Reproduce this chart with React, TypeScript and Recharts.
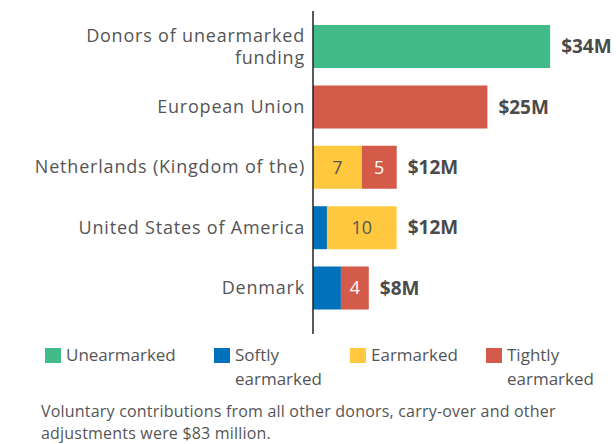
import React from 'react';
import { BarChart, Bar, XAxis, YAxis, LabelList } from 'recharts';

const donors = [
  'Donors of unearmarked funding',
  'European Union',
  'Netherlands (Kingdom of the)',
  'United States of America',
  'Denmark',
];
const unearmarked = [34, 0, 0, 0, 0];
const softly = [0, 0, 0, 2, 4];
const earmarked = [0, 0, 7, 10, 0];
const tightly = [0, 25, 5, 0, 4];
const totals = ['$34M', '$25M', '$12M', '$12M', '$8M'];

const series = [
  { key: 'unearmarked', name: 'Unearmarked', color: '#43bb89', lines: ['Unearmarked'] },
  { key: 'softly', name: 'Softly earmarked', color: '#0072bc', lines: ['Softly', 'earmarked'] },
  { key: 'earmarked', name: 'Earmarked', color: '#ffc83f', lines: ['Earmarked'] },
  { key: 'tightly', name: 'Tightly earmarked', color: '#d45b49', lines: ['Tightly', 'earmarked'] },
];

const data = donors.map((name, i) => ({
  name,
  unearmarked: unearmarked[i],
  softly: softly[i],
  earmarked: earmarked[i],
  tightly: tightly[i],
  total: totals[i],
}));

const FONT = '"Open Sans", sans-serif';
const TEXT = '#555555';

const keys = series.map((s) => s.key);
const lastKey = (row: any) => [...keys].reverse().find((k) => row[k] > 0);
const partCount = (row: any) => keys.filter((k) => row[k] > 0).length;

// split the long first label onto two lines like the original
const tickLines = (label: string) =>
  label === 'Donors of unearmarked funding' ? ['Donors of unearmarked', 'funding'] : [label];

const DonorTick = (props: any) => {
  const { x, y, payload } = props;
  const lines = tickLines(payload.value);
  const lh = 22;
  const y0 = y - ((lines.length - 1) * lh) / 2;
  return (
    <text x={x} y={y0} textAnchor="end" fill={TEXT} fontSize={18} letterSpacing={0.8} fontFamily={FONT}>
      {lines.map((l, i) => (
        <tspan key={i} x={x} y={y0 + i * lh} dy="0.35em">
          {l}
        </tspan>
      ))}
    </text>
  );
};

const innerLabel = (color: string) => (props: any) => {
  const { x, y, width, height, value } = props;
  if (value === '' || value == null) return null;
  return (
    <text x={x + width / 2} y={y + height / 2} dy="0.35em" textAnchor="middle" fill={color} fontSize={18} fontFamily={FONT}>
      {value}
    </text>
  );
};

const totalLabel = (props: any) => {
  const { x, y, width, height, value } = props;
  if (!value) return null;
  return (
    <text x={x + width + 11} y={y + height / 2} dy="0.35em" fill="#4a4a4a" fontSize={19} fontWeight={700} fontFamily={FONT}>
      {value}
    </text>
  );
};

// segment numbers only on rows made of more than one piece
const segValue = (key: string) => (row: any) => (partCount(row) > 1 && row[key] > 0 ? row[key] : '');
// total sits after whichever segment ends the row
const totalValue = (key: string) => (row: any) => (lastKey(row) === key ? row.total : '');

const legendLeft = [45, 214, 350, 486];

export default function App() {
  return (
    <div style={{ position: 'absolute', left: 0, top: 0, width: 616, height: 444, background: '#fff', overflow: 'hidden' }}>
      <BarChart width={616} height={444} data={data} layout="vertical" margin={{ top: 11, right: 24, bottom: 110, left: 0 }}>
        <XAxis type="number" domain={[0, 40]} hide />
        <YAxis
          type="category"
          dataKey="name"
          width={313}
          axisLine={{ stroke: '#222', strokeWidth: 1.5 }}
          tickLine={false}
          tickSize={0}
          tickMargin={8}
          padding={{ top: 5, bottom: 16 }}
          tick={<DonorTick />}
          interval={0}
        />
        {series.map((s) => (
          <Bar key={s.key} dataKey={s.key} name={s.name} stackId="a" fill={s.color} barSize={43} isAnimationActive={false}>
            {s.key === 'earmarked' && <LabelList dataKey={segValue('earmarked')} content={innerLabel('#555555')} />}
            {s.key === 'tightly' && <LabelList dataKey={segValue('tightly')} content={innerLabel('#ffffff')} />}
            <LabelList dataKey={totalValue(s.key)} content={totalLabel} />
          </Bar>
        ))}
      </BarChart>
      <div style={{ position: 'absolute', left: 0, top: 343, width: 616, fontFamily: FONT, color: TEXT, fontSize: 17 }}>
        {series.map((s, i) => (
          <div key={s.key} style={{ position: 'absolute', left: legendLeft[i], top: 0 }}>
            <div style={{ position: 'absolute', left: 0, top: 5, width: 16, height: 15, background: s.color }} />
            <div style={{ position: 'absolute', left: 21, top: 0, lineHeight: '24px', whiteSpace: 'nowrap' }}>
              {s.lines.map((l, j) => (
                <div key={j}>{l}</div>
              ))}
            </div>
          </div>
        ))}
      </div>
      <div
        style={{
          position: 'absolute',
          left: 41,
          top: 400,
          width: 572,
          fontFamily: FONT,
          fontSize: 16,
          letterSpacing: 0.2,
          lineHeight: '22px',
          color: TEXT,
        }}
      >
        Voluntary contributions from all other donors, carry-over and other adjustments were $83 million.
      </div>
    </div>
  );
}
